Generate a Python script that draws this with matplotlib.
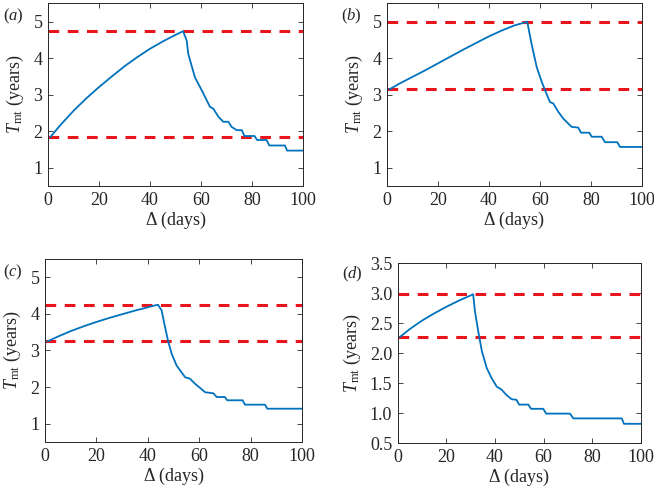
import matplotlib
matplotlib.use("Agg")
import matplotlib.pyplot as plt

plt.rcParams['font.family'] = ['Liberation Serif', 'DejaVu Serif']
plt.rcParams['mathtext.fontset'] = 'custom'
plt.rcParams['mathtext.rm'] = 'Liberation Serif'
plt.rcParams['mathtext.it'] = 'Liberation Serif:italic'

# ---- data ----
days_a = [1, 5, 10, 15, 20, 25, 30, 35, 40, 45, 50, 53,
          54.4, 55, 57.6, 60.3, 63.5, 64.8, 66.8, 68.7, 70.7, 72, 74, 76, 77, 81, 82, 85.7, 86.8, 92.9, 93.8, 100]
vals_a = [1.85, 2.18, 2.56, 2.90, 3.21, 3.50, 3.78, 4.03, 4.26, 4.46, 4.64, 4.74,
          4.48, 4.12, 3.48, 3.12, 2.67, 2.62, 2.40, 2.26, 2.26, 2.12, 2.03, 2.03, 1.87, 1.87, 1.76, 1.76, 1.61, 1.61, 1.47, 1.47]
levels_a = [4.74, 1.85]

days_b = [1, 5, 10, 15, 20, 25, 30, 35, 40, 45, 50, 55,
          56.7, 58.7, 60.7, 62, 63.9, 65.2, 67.2, 69.1, 71.1, 72.4, 75, 76.1, 79.3, 80.3, 84.2, 85.5, 90.3, 91.4, 100]
vals_b = [3.15, 3.31, 3.49, 3.67, 3.86, 4.05, 4.24, 4.42, 4.60, 4.76, 4.90, 5.0,
          4.39, 3.76, 3.35, 3.12, 2.80, 2.76, 2.53, 2.35, 2.21, 2.12, 2.10, 1.96, 1.96, 1.85, 1.85, 1.70, 1.70, 1.57, 1.57]
levels_b = [5.0, 3.15]

days_c = [1, 5, 10, 15, 20, 25, 30, 35, 40, 42, 44,
          45.4, 46.7, 48, 49.3, 51.2, 54.5, 56.4, 58.4, 60.3, 62.3, 65.5, 66.8, 70, 70.9, 76.9, 77.8, 85.6, 86.5, 100]
vals_c = [3.25, 3.38, 3.53, 3.66, 3.78, 3.89, 3.99, 4.09, 4.18, 4.22, 4.25,
          4.09, 3.64, 3.23, 2.91, 2.59, 2.27, 2.23, 2.09, 1.98, 1.86, 1.83, 1.73, 1.73, 1.64, 1.64, 1.52, 1.52, 1.41, 1.41]
levels_c = [4.25, 3.25]

days_d = [1, 5, 10, 15, 20, 25, 30, 31,
          31.8, 33.2, 34.6, 36.6, 38.6, 40.7, 42.7, 44.7, 46.8, 48.8, 49.9, 53.7, 54.8, 59.8, 61, 70.8, 72.2, 92.1, 93, 100]
vals_d = [2.27, 2.40, 2.54, 2.66, 2.77, 2.87, 2.96, 2.98,
          2.68, 2.34, 2.03, 1.75, 1.58, 1.44, 1.39, 1.30, 1.23, 1.22, 1.14, 1.14, 1.07, 1.07, 0.99, 0.99, 0.91, 0.91, 0.82, 0.82]
levels_d = [2.98, 2.27]

xticks = [0, 20, 40, 60, 80, 100]
yticks_abc = [1, 2, 3, 4, 5]
yticklabels_abc = ['1', '2', '3', '4', '5']
yticks_d = [0.5, 1.0, 1.5, 2.0, 2.5, 3.0, 3.5]
yticklabels_d = ['0.5', '1.0', '1.5', '2.0', '2.5', '3.0', '3.5']
panel_labels = ['a', 'b', 'c', 'd']

W, H = 654, 488
fig = plt.figure(figsize=(W / 100, H / 100), dpi=100)

def box(l, r, t, b):
    return [l / W, 1 - b / H, (r - l) / W, (b - t) / H]

positions = [box(48, 303, 3.5, 186), box(387, 642, 3.5, 186),
             box(45, 302, 259, 442), box(397.7, 641, 263, 443)]
label_pos = [(3, 7), (341, 7), (3, 263), (342, 265)]

series = [(days_a, vals_a, levels_a, (0.5, 5.5), yticks_abc, yticklabels_abc),
          (days_b, vals_b, levels_b, (0.5, 5.5), yticks_abc, yticklabels_abc),
          (days_c, vals_c, levels_c, (0.5, 5.5), yticks_abc, yticklabels_abc),
          (days_d, vals_d, levels_d, (0.5, 3.5), yticks_d, yticklabels_d)]

tc = '#262626'
for i, (pos, (dx, vy, lev, ylim, yt, ytl)) in enumerate(zip(positions, series)):
    ax = fig.add_axes(pos)
    for lv in lev:
        ax.plot([0, 100], [lv, lv], color='#e8161c', lw=2.2, dashes=(3.5, 2.8), zorder=2)
    ax.plot(dx, vy, color='#0072BD', lw=1.3, zorder=3)
    ax.set_xlim(0, 100)
    ax.set_ylim(*ylim)
    ax.set_xticks(xticks)
    ax.set_yticks(yt)
    ax.set_yticklabels(ytl)
    ax.tick_params(direction='in', length=3.5, width=0.6, top=True, right=True,
                   labelsize=13, colors=tc, pad=4)
    for s in ax.spines.values():
        s.set_linewidth(0.7)
        s.set_color(tc)
    ax.set_xlabel('Δ (days)', fontsize=13, color=tc, labelpad=2)
    ax.set_ylabel(r'$T_{\mathrm{mt}}$ (years)', fontsize=13, color=tc, labelpad=5)
    lx, ly = label_pos[i]
    fig.text(lx / W, 1 - ly / H, '($%s$)' % panel_labels[i], fontsize=12, color=tc,
             ha='left', va='top')

fig.savefig('out.png', dpi=100)
